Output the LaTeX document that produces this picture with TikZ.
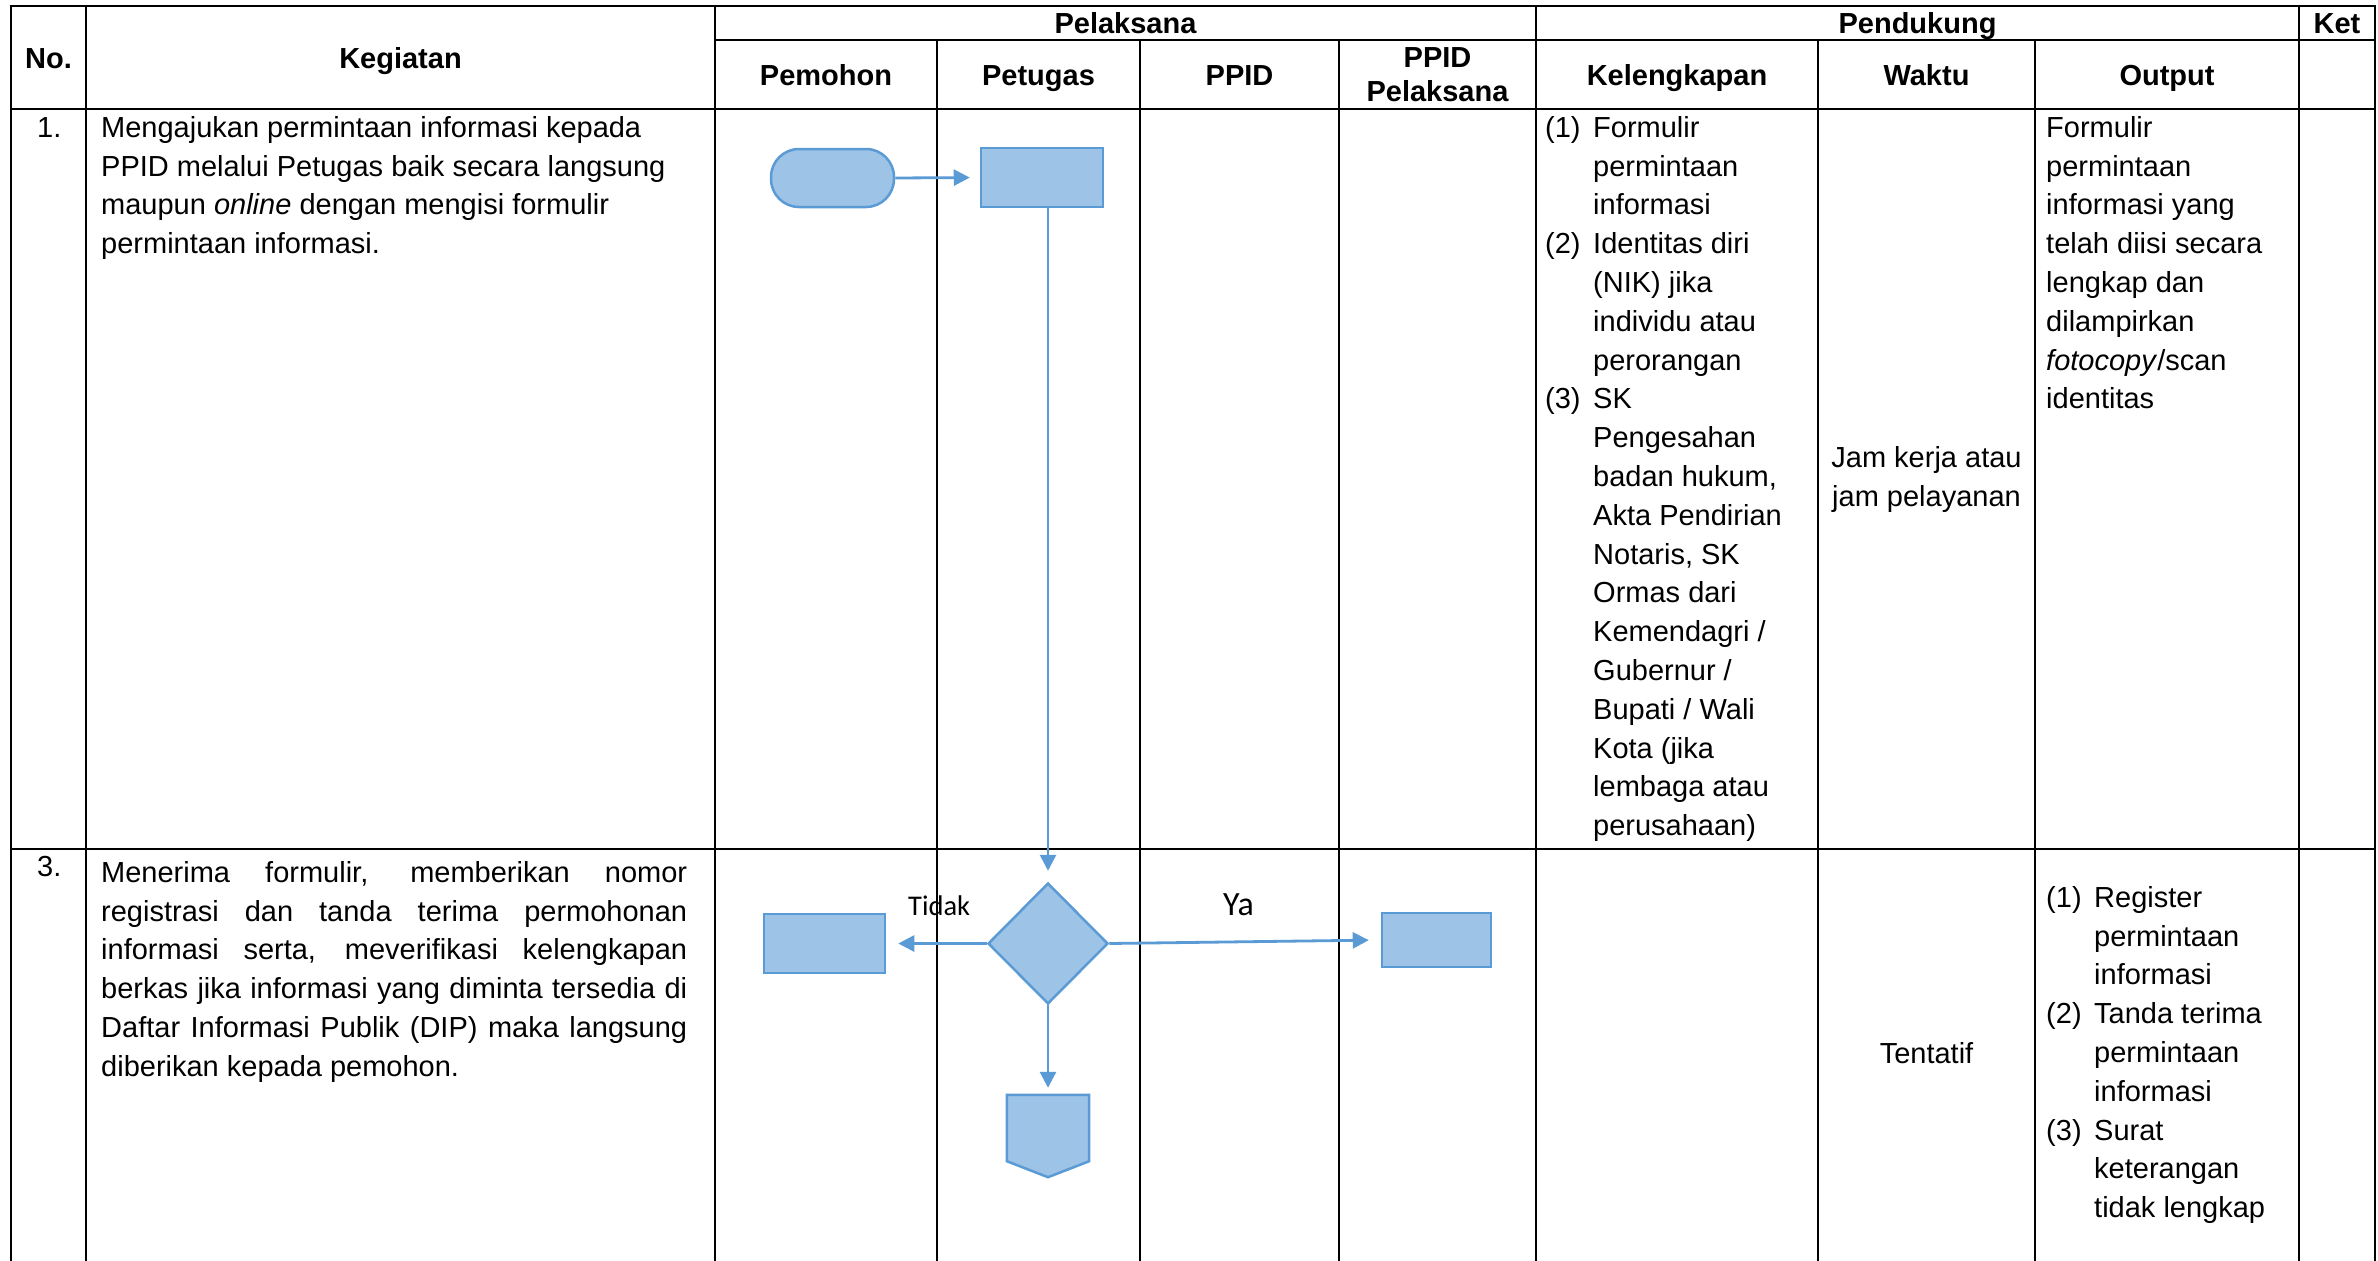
\documentclass[tikz,border=0pt]{standalone}
\usepackage{fontspec}
\setmainfont{Liberation Sans}
\newfontfamily\calfont{Carlito}
\usetikzlibrary{arrows.meta,shapes.geometric}
\definecolor{flowfill}{HTML}{9DC3E6}
\definecolor{flowline}{HTML}{5B9BD5}
\newcommand\lstitem[1]{\makebox[48pt][l]{#1}}
\newcommand\lsind{\hspace*{48pt}}
\begin{document}
\begin{tikzpicture}[x=1pt,y=-1pt,
  grid/.style={line width=2.6pt, black, line cap=rect},
  body/.style={font=\fontsize{29}{38.8}\selectfont, inner sep=0pt},
  txt/.style={body, anchor=north west, align=left},
  hdr/.style={font=\bfseries\fontsize{29}{34}\selectfont, inner sep=0pt, anchor=base},
  shp/.style={draw=flowline, fill=flowfill, line width=2.5pt},
  arr/.style={draw=flowline, line width=2.8pt, -{Triangle[length=16pt,width=16pt]}},
  lbl/.style={font=\calfont\fontsize{28.5}{34}\selectfont, inner sep=0pt, anchor=base west}]
\useasboundingbox (0,0) rectangle (2378,1261);
\fill[white] (0,0) rectangle (2378,1261);

% table grid
\draw[grid] (11,6) -- (2375,6);
\draw[grid] (715,40) -- (2375,40);
\draw[grid] (11,109) -- (2375,109);
\draw[grid] (11,849) -- (2375,849);
\foreach \x in {11,86,715,1536,2299,2375} \draw[grid] (\x,6) -- (\x,1261);
\foreach \x in {937,1140,1339,1818,2035} \draw[grid] (\x,40) -- (\x,1261);

% headers
\node[hdr] (hno) at (48.5,68) {No.};
\node[hdr] (hkeg) at (400.5,68) {Kegiatan};
\node[hdr] (hpel) at (1125.5,33.5) {Pelaksana};
\node[hdr] (hpen) at (1917.5,33.5) {Pendukung};
\node[hdr] (hket) at (2337,33.5) {Ket};
\node[hdr] (hpem) at (826,85) {Pemohon};
\node[hdr] (hpet) at (1038.5,85) {Petugas};
\node[hdr] (hppid) at (1239.5,85) {PPID};
\node[hdr, anchor=north, align=center] (hppidp) at (1437.5,43.2) {\strut PPID\\Pelaksana};
\node[hdr] (hkel) at (1677,85) {Kelengkapan};
\node[hdr] (hwak) at (1926.5,85) {Waktu};
\node[hdr] (hout) at (2167,85) {Output};

% row 1
\node[txt] (no1) at (37,109.84) {\strut 1.};
\node[txt] (keg1) at (101,109.84) {\strut Mengajukan permintaan informasi kepada\\PPID melalui Petugas baik secara langsung\\maupun \textit{online} dengan mengisi formulir\\permintaan informasi.};
\node[txt] (kel1) at (1545,109.84) {\strut\lstitem{(1)}Formulir\\\lsind permintaan\\\lsind informasi\\\lstitem{(2)}Identitas diri\\\lsind (NIK) jika\\\lsind individu atau\\\lsind perorangan\\\lstitem{(3)}SK\\\lsind Pengesahan\\\lsind badan hukum,\\\lsind Akta Pendirian\\\lsind Notaris, SK\\\lsind Ormas dari\\\lsind Kemendagri /\\\lsind Gubernur /\\\lsind Bupati / Wali\\\lsind Kota (jika\\\lsind lembaga atau\\\lsind perusahaan)};
\node[body, anchor=north, align=center] (wak1) at (1926.5,439.84) {\strut Jam kerja atau\\jam pelayanan};
\node[txt] (out1) at (2046,109.84) {\strut Formulir\\permintaan\\informasi yang\\telah diisi secara\\lengkap dan\\dilampirkan\\\textit{fotocopy}/scan\\identitas};

% row 3
\node[body, anchor=base west] (no3) at (37,876) {3.};
\node[txt, text width=586pt, align=justify] (keg3) at (101,854.84) {\strut Menerima formulir, memberikan nomor\linebreak registrasi dan tanda terima permohonan\linebreak informasi serta, meverifikasi kelengkapan\linebreak berkas jika informasi yang diminta tersedia di\linebreak Daftar Informasi Publik (DIP) maka langsung\linebreak diberikan kepada pemohon.};
\node[body, anchor=base] (wak3) at (1926.5,1063) {Tentatif};
\node[txt] (out3) at (2046,879.84) {\strut\lstitem{(1)}Register\\\lsind permintaan\\\lsind informasi\\\lstitem{(2)}Tanda terima\\\lsind permintaan\\\lsind informasi\\\lstitem{(3)}Surat\\\lsind keterangan\\\lsind tidak lengkap};

% flowchart shapes
\node[shp, rounded corners=28pt, minimum width=123pt, minimum height=58pt, inner sep=0pt] (pill) at (832.5,178) {};
\node[shp, minimum width=122pt, minimum height=59pt, inner sep=0pt] (r1) at (1042,177.5) {};
\node[shp, diamond, minimum width=120pt, minimum height=121pt, inner sep=0pt] (dia) at (1048,943.5) {};
\node[shp, minimum width=121pt, minimum height=59pt, inner sep=0pt] (rl) at (824.5,943.5) {};
\node[shp, minimum width=109pt, minimum height=54pt, inner sep=0pt] (rr) at (1436.5,940) {};
\node[minimum width=82pt, minimum height=82pt, inner sep=0pt] (off) at (1048,1136) {};
\filldraw[shp] (off.north west) -- (off.north east) -- ([yshift=16pt]off.south east) -- (off.south) -- ([yshift=16pt]off.south west) -- cycle;

% connectors
\draw[arr, shorten >=10pt] (pill.east) -- (r1.west);
\draw[arr, shorten >=11pt] (r1.south -| dia.north) -- (dia.north);
\draw[arr, shorten >=12pt] (dia.west) -- (rl.east);
\draw[arr, shorten >=12pt] (dia.east) -- (rr.west);
\draw[arr, shorten >=7pt] (dia.south) -- (off.north);

% labels
\node[lbl] (tidak) at (908,915) {Tidak};
\node[lbl, font=\calfont\fontsize{34}{40}\selectfont] (ya) at (1223,915) {Ya};
\end{tikzpicture}
\end{document}
